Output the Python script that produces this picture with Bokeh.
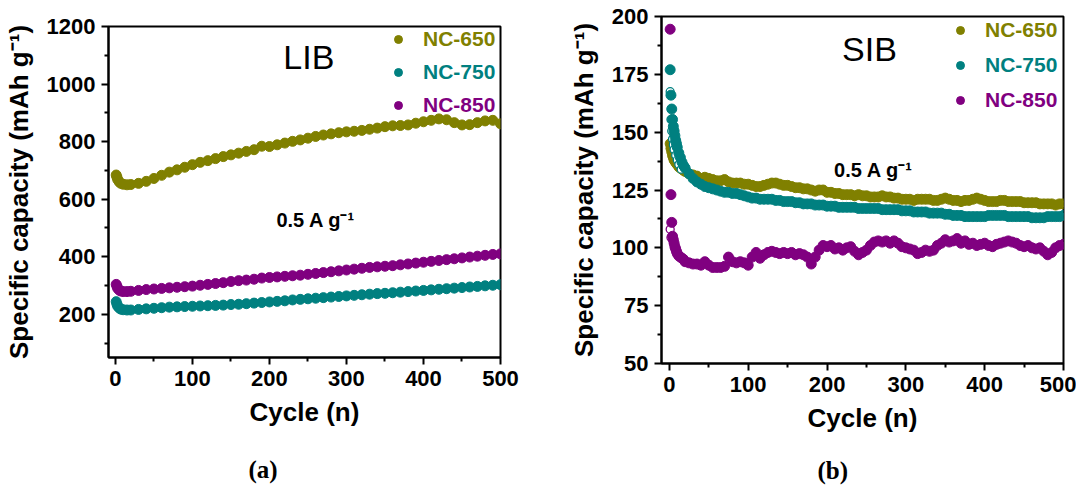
from bokeh.plotting import figure
from bokeh.layouts import row
from bokeh.models import Range1d, Label, Legend, LegendItem, FixedTicker, Title
from bokeh.embed import file_html
from bokeh.resources import INLINE

OLIVE = "#808000"
TEAL = "#008080"
PURPLE = "#800080"
SANS = "Liberation Sans"

# ---------------- (a) LIB data ----------------
lib_cycle = [1, 2, 3, 5, 7, 10, 15, 20] + list(range(30, 501, 10))
lib_nc650 = [684, 676, 668, 660, 655, 652, 650, 651,
             655, 662, 672, 683, 694, 702, 711, 720,
             728, 734, 741, 748, 754, 760, 766, 772, 784, 783,
             789, 795, 801, 806, 812, 818, 823, 827, 831, 834,
             836, 839, 843, 847, 852, 855, 856, 858, 864, 869,
             874, 879, 876, 866, 858, 859, 866, 872, 874, 862]
lib_nc750 = [244, 235, 228, 222, 218, 216, 215, 215,
             217, 219, 221, 223, 225, 226, 227, 228,
             229, 230, 231, 232, 234, 235, 237, 239, 241, 243,
             245, 247, 250, 252, 254, 256, 258, 260, 262, 264,
             266, 268, 270, 272, 273, 275, 277, 279, 281, 283,
             285, 287, 289, 291, 293, 295, 297, 299, 301, 303]
lib_nc850 = [304, 297, 290, 284, 281, 279, 279, 280,
             283, 286, 288, 290, 292, 294, 296, 298,
             301, 304, 307, 310, 314, 317, 319, 322, 326, 328,
             330, 332, 334, 336, 339, 342, 345, 348, 351, 354,
             357, 360, 363, 365, 367, 369, 372, 375, 378, 381,
             384, 387, 390, 393, 396, 399, 402, 405, 408, 410]

# ---------------- (b) SIB data ----------------
sib_cycle = [1, 2, 3, 4, 5, 6, 7, 8, 9, 10, 12, 14, 16, 18] + list(range(20, 501, 5))
sib_nc650 = [145, 143, 141.5, 140, 139, 138, 137.5, 137, 136.5, 136, 135, 134.5, 134, 133.5,
             133, 132, 131.5, 131, 130, 130.5, 130, 129.5, 129, 129,
             129.5, 128.5, 128, 128, 128, 127.5, 127.5, 127, 126.5, 126.5,
             127, 127.5, 128, 128, 127.5, 127, 127, 126.5, 126, 126,
             125.5, 125.5, 125, 124.5, 125, 125, 124, 124, 123.5, 123.5,
             123, 123, 123, 122.5, 123, 122.5, 122.5, 122, 122, 122,
             122.5, 122, 122, 121.5, 121.5, 121, 121, 121, 120.5, 121,
             121, 121, 121, 120.5, 120.5, 121, 121.5, 121, 120.5, 120.5,
             120, 120.5, 120.5, 121, 121.5, 121, 120.5, 120, 120, 120,
             120.5, 120.5, 120, 120, 120, 120, 119.5, 119.5, 119.5, 119.5,
             119, 119, 119, 119, 118.5, 119, 119]
sib_nc750 = [177, 166, 160, 155.5, 152.5, 150.5, 148.5, 146.5, 145, 143.5, 141, 139, 137, 135.5,
             134.5, 132, 130, 128.5, 127.5, 126.5, 126, 125.5, 125, 124.5,
             124, 124, 123.5, 123.5, 123, 122.5, 122, 121.5, 121.5, 121,
             121, 121, 121, 120.5, 120.5, 120, 120, 120, 119.5, 119.5,
             119, 119, 119, 118.5, 118.5, 118.5, 118, 118, 118, 117.5,
             117.5, 117.5, 117.5, 117.5, 117, 117, 117, 117, 117, 117,
             116.5, 116.5, 116.5, 116.5, 116.5, 116, 116, 116, 115.5, 115.5,
             115.5, 115.5, 115, 115, 115, 115, 114.5, 114.5, 114, 114,
             114, 113.5, 113.5, 113.5, 113.5, 113.5, 113.5, 114, 114, 114,
             114, 114, 113.5, 113.5, 113.5, 113.5, 113.5, 113.5, 113, 113,
             113, 113, 113.5, 113.5, 113.5, 113.5, 114]
sib_nc850 = [194.5, 123, 111, 105, 103.5, 102, 100.5, 99.5, 98.5, 97.5, 96.5, 96, 95.5, 95,
             94, 93.5, 93, 93, 92.5, 94, 92.5, 91.5, 91.5, 91.5,
             92, 96, 94, 93.5, 94, 93.5, 92.5, 96, 98, 95.5,
             97, 98, 98.5, 98, 97.5, 98, 97.5, 98, 97, 97.5,
             97, 96, 93, 96, 99, 101, 100.5, 101, 99.5, 100,
             99, 100, 100.5, 98.5, 97, 98, 99, 101, 102.5, 103,
             102.5, 103, 102, 103, 102, 100.5, 100, 99.5, 99, 97.5,
             98, 99, 98.5, 99, 101, 102, 103.5, 102.5, 103, 104,
             102, 103, 101.5, 102, 101, 101.5, 102, 101, 100.5, 101.5,
             102, 102.5, 103, 102.5, 102, 101, 100.5, 101, 100, 99.5,
             100, 98.5, 97, 98, 100, 101, 101.5]
# charge (open symbols) visible in the first cycles
sib_open750_cycle = [1, 2, 3, 4, 5, 6, 8, 10, 12, 15]
sib_open750 = [167.5, 155.5, 150.5, 147, 144.5, 142.5, 140, 138, 136, 134]
sib_open850_cycle = [1, 2]
sib_open850 = [108, 104.5]

x_ticks = [0, 100, 200, 300, 400, 500]
x_minor = [50, 150, 250, 350, 450]
lib_y_ticks = [200, 400, 600, 800, 1000, 1200]
lib_y_minor = [100, 300, 500, 700, 900, 1100]
sib_y_ticks = [50, 75, 100, 125, 150, 175, 200]
sib_y_minor = [62.5, 87.5, 112.5, 137.5, 162.5, 187.5]

Y_LABEL = "Specific capacity (mAh g\u207b\u00b9)"
X_LABEL = "Cycle (n)"
RATE = "0.5 A g\u207b\u00b9"


def style(p, yt, ym):
    p.frame_align = False
    p.xaxis.ticker = FixedTicker(ticks=x_ticks, minor_ticks=x_minor)
    p.yaxis.ticker = FixedTicker(ticks=yt, minor_ticks=ym)
    for ax in (p.xaxis[0], p.yaxis[0]):
        ax.axis_line_width = 2
        ax.axis_line_color = "black"
        ax.major_tick_line_width = 2
        ax.minor_tick_line_width = 2
        ax.major_tick_line_color = "black"
        ax.minor_tick_line_color = "black"
        ax.major_tick_out = 7
        ax.major_tick_in = 0
        ax.minor_tick_out = 4
        ax.minor_tick_in = 0
        ax.major_label_text_font = SANS
        ax.major_label_text_font_style = "bold"
        ax.major_label_text_font_size = "22px"
        ax.major_label_text_color = "black"
        ax.axis_label_text_font = SANS
        ax.axis_label_text_font_style = "bold"
        ax.axis_label_text_font_size = "26px"
        ax.axis_label_text_color = "black"
    p.xaxis[0].major_label_standoff = 6
    p.xaxis[0].axis_label_standoff = 8
    p.yaxis[0].major_label_standoff = 6
    p.yaxis[0].axis_label_standoff = 10
    p.xaxis.axis_label = X_LABEL
    p.yaxis.axis_label = Y_LABEL
    p.outline_line_color = "black"
    p.outline_line_width = 2
    p.outline_line_alpha = 1
    p.xgrid.visible = False
    p.ygrid.visible = False
    p.background_fill_color = "white"
    p.border_fill_color = "white"


def add_legend(p, rend, label, color, loc):
    lg = Legend(items=[LegendItem(label=label, renderers=[rend])], location=loc,
                padding=0, margin=0, border_line_color=None, background_fill_alpha=0,
                glyph_width=20, glyph_height=24, label_height=24, label_standoff=15,
                label_text_font=SANS, label_text_font_style="bold",
                label_text_font_size="21px", label_text_color=color)
    p.add_layout(lg)


def panel_tag(p, text, offset, standoff):
    p.add_layout(Title(text=text, align="left", offset=offset, standoff=standoff,
                       text_font="Liberation Serif", text_font_size="25px",
                       text_font_style="bold", text_color="black"), "below")


# ---------------- panel (a) ----------------
p1 = figure(frame_width=392, frame_height=331, min_border_left=99, min_border_right=41,
            min_border_top=26, min_border_bottom=134, x_range=Range1d(-9, 500),
            y_range=Range1d(50, 1200), output_backend="svg", toolbar_location=None)
style(p1, lib_y_ticks, lib_y_minor)
r1a = p1.scatter(lib_cycle, lib_nc650, size=10, marker="circle", fill_color=OLIVE, line_color=OLIVE)
r1b = p1.scatter(lib_cycle, lib_nc750, size=10, marker="circle", fill_color=TEAL, line_color=TEAL)
r1c = p1.scatter(lib_cycle, lib_nc850, size=10, marker="circle", fill_color=PURPLE, line_color=PURPLE)
add_legend(p1, r1a, "NC-650", OLIVE, (280, 306))
add_legend(p1, r1b, "NC-750", TEAL, (280, 273))
add_legend(p1, r1c, "NC-850", PURPLE, (280, 240))
p1.add_layout(Label(x=218, y=1093, text="LIB", text_font=SANS, text_font_size="34px",
                    text_baseline="alphabetic", text_color="black"))
p1.add_layout(Label(x=209, y=527, text=RATE, text_font=SANS, text_font_size="20px",
                    text_font_style="bold", text_baseline="alphabetic", text_color="black"))
panel_tag(p1, "(a)", 140, 48)

# ---------------- panel (b) ----------------
p2 = figure(frame_width=402, frame_height=347, min_border_left=120, min_border_right=13,
            min_border_top=16, min_border_bottom=128, x_range=Range1d(-10, 500),
            y_range=Range1d(50, 200), output_backend="svg", toolbar_location=None)
style(p2, sib_y_ticks, sib_y_minor)
r2a = p2.scatter(sib_cycle, sib_nc650, size=10, marker="circle", fill_color=OLIVE, line_color=OLIVE)
p2.scatter(sib_open750_cycle, sib_open750, size=8, marker="circle", fill_color="white",
           line_color=TEAL, line_width=1.3)
r2b = p2.scatter(sib_cycle, sib_nc750, size=10, marker="circle", fill_color=TEAL, line_color=TEAL)
p2.scatter(sib_open850_cycle, sib_open850, size=8, marker="circle", fill_color="white",
           line_color=PURPLE, line_width=1.3)
r2c = p2.scatter(sib_cycle, sib_nc850, size=10, marker="circle", fill_color=PURPLE, line_color=PURPLE)
add_legend(p2, r2a, "NC-650", OLIVE, (289, 321))
add_legend(p2, r2b, "NC-750", TEAL, (289, 286))
add_legend(p2, r2c, "NC-850", PURPLE, (289, 251))
p2.add_layout(Label(x=219, y=186, text="SIB", text_font=SANS, text_font_size="34px",
                    text_baseline="alphabetic", text_color="black"))
p2.add_layout(Label(x=209, y=133.7, text=RATE, text_font=SANS, text_font_size="20px",
                    text_font_style="bold", text_baseline="alphabetic", text_color="black"))
panel_tag(p2, "(b)", 156, 38)

layout = row(p1, p2)
open("out.html", "w").write(file_html(layout, INLINE))
